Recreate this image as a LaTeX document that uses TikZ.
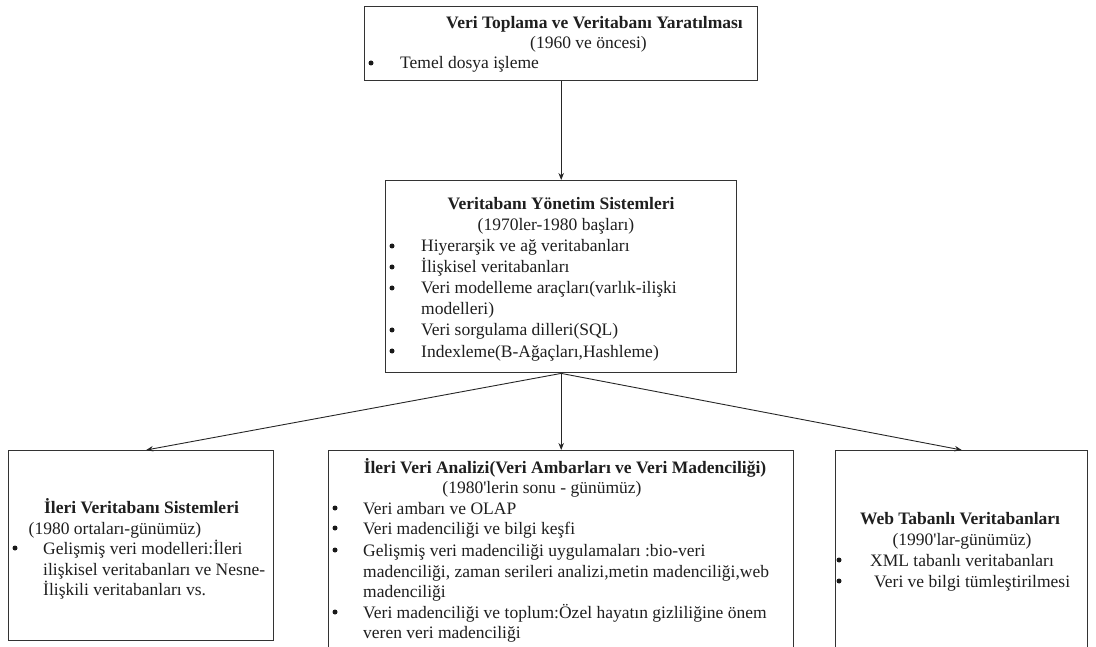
\documentclass[tikz,border=0pt]{standalone}
\usepackage{fontspec}
\setmainfont{Liberation Serif}
\usetikzlibrary{arrows.meta}
\begin{document}
\begin{tikzpicture}[x=1pt,y=-1pt,
  box/.style={draw=black!80,line width=1.4pt,fill=white,rectangle,inner sep=0pt,anchor=north west},
  txt/.style={inner sep=0pt,anchor=base west,text=black!88,font=\fontsize{17.5}{21}\selectfont},
  ctr/.style={txt,anchor=base},
  ttl/.style={ctr,font=\fontsize{17.5}{21}\selectfont\bfseries},
  bul/.style={circle,fill=black!90,inner sep=0pt,minimum size=5pt,yshift=6pt},
  arr/.style={draw=black!85,line width=0.9pt,-{Stealth[length=7pt,width=5.5pt]}}]
\useasboundingbox (0,0) rectangle (1096,647);
\clip (0,0) rectangle (1096,647);

% boxes
\node[box,minimum width=393,minimum height=74] (top) at (364,6) {};
\node[box,minimum width=351,minimum height=192] (mid) at (385,180) {};
\node[box,minimum width=265,minimum height=190] (left) at (8,450) {};
\node[box,minimum width=465,minimum height=230] (bm) at (328,450) {};
\node[box,minimum width=252,minimum height=230] (right) at (835,450) {};

% connectors
\draw[arr] (top.south) -- (mid.north);
\draw[arr] (mid.south) -- ([xshift=5pt]left.north);
\draw[arr] (mid.south) -- (bm.north);
\draw[arr] (mid.south) -- (right.north);

% top box
\node[ttl] (t1) at (594.5,29) {Veri Toplama ve Veritabanı Yaratılması};
\node[ctr] (t2) at (588.5,49) {(1960 ve öncesi)};
\node[bul] (tb1) at (371,69) {};
\node[txt] (t3) at (400,69) {Temel dosya işleme};

% database management systems
\node[ttl] (m1) at (561,210) {Veritabanı Yönetim Sistemleri};
\node[ctr] (m2) at (556,231) {(1970ler-1980 başları)};
\node[bul] (mb1) at (392,252) {};
\node[txt] (m3) at (421,252) {Hiyerarşik ve ağ veritabanları};
\node[bul] (mb2) at (392,273) {};
\node[txt] (m4) at (421,273) {İlişkisel veritabanları};
\node[bul] (mb3) at (392,294) {};
\node[txt] (m5) at (421,294) {Veri modelleme araçları(varlık-ilişki};
\node[txt] (m6) at (421,315) {modelleri)};
\node[bul] (mb4) at (392,336) {};
\node[txt] (m7) at (421,336) {Veri sorgulama dilleri(SQL)};
\node[bul] (mb5) at (392,357) {};
\node[txt] (m8) at (421,357) {Indexleme(B-Ağaçları,Hashleme)};

% advanced database systems
\node[ttl] (l1) at (141.5,513) {İleri Veritabanı Sistemleri};
\node[ctr] (l2) at (115,534) {(1980 ortaları-günümüz)};
\node[bul] (lb1) at (15,554) {};
\node[txt] (l3) at (43,554) {Gelişmiş veri modelleri:İleri};
\node[txt] (l4) at (43,575) {ilişkisel veritabanları ve Nesne-};
\node[txt] (l5) at (43,595) {İlişkili veritabanları vs.};

% advanced data analysis
\node[ttl] (b1) at (565,473) {İleri Veri Analizi(Veri Ambarları ve Veri Madenciliği)};
\node[ctr] (b2) at (542,493) {(1980\textquotesingle lerin sonu - günümüz)};
\node[bul] (bb1) at (335,514) {};
\node[txt] (b3) at (363,514) {Veri ambarı ve OLAP};
\node[bul] (bb2) at (335,534) {};
\node[txt] (b4) at (363,534) {Veri madenciliği ve bilgi keşfi};
\node[bul] (bb3) at (335,556) {};
\node[txt] (b5) at (363,556) {Gelişmiş veri madenciliği uygulamaları :bio-veri};
\node[txt] (b6) at (363,577) {madenciliği, zaman serileri analizi,metin madenciliği,web};
\node[txt] (b7) at (363,597) {madenciliği};
\node[bul] (bb4) at (335,618) {};
\node[txt] (b8) at (363,618) {Veri madenciliği ve toplum:Özel hayatın gizliliğine önem};
\node[txt] (b9) at (363,638) {veren veri madenciliği};

% web based databases
\node[ttl] (r1) at (960,524) {Web Tabanlı Veritabanları};
\node[ctr] (r2) at (962,545) {(1990\textquotesingle lar-günümüz)};
\node[bul] (rb1) at (839,566) {};
\node[txt] (r3) at (870,566) {XML tabanlı veritabanları};
\node[bul] (rb2) at (839,587) {};
\node[txt] (r4) at (874,587) {Veri ve bilgi tümleştirilmesi};
\end{tikzpicture}
\end{document}
